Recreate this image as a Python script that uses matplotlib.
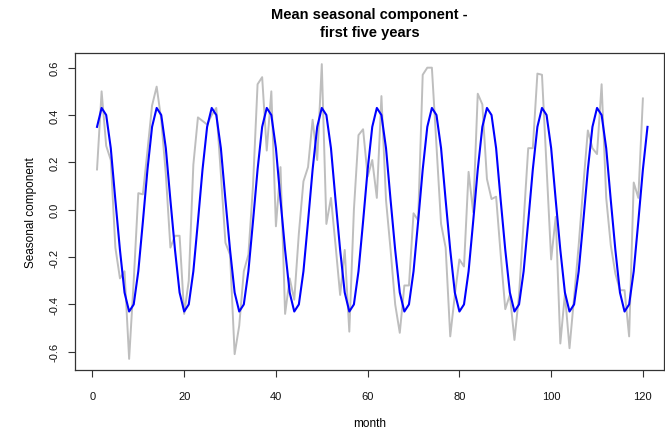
import matplotlib
matplotlib.use("Agg")
import matplotlib.pyplot as plt
import numpy as np

plt.rcParams['font.family'] = ['Liberation Sans', 'DejaVu Sans']

# monthly observations (grey), months 1..120
observed = [0.17, 0.50, 0.27, 0.21, -0.16, -0.29, -0.26, -0.63, -0.30, 0.07,
            0.065, 0.25, 0.44, 0.52, 0.38, 0.15, -0.16, -0.11, -0.11, -0.44,
            -0.30, 0.19, 0.39, 0.375, 0.36, 0.40, 0.43, 0.15, -0.14, -0.19,
            -0.61, -0.49, -0.26, -0.19, 0.10, 0.53, 0.56, 0.25, 0.50, -0.07,
            0.18, -0.44, -0.29, -0.38, -0.10, 0.12, 0.18, 0.38, 0.21, 0.615,
            -0.06, 0.05, -0.15, -0.36, -0.17, -0.515, 0.00, 0.315, 0.34, 0.14,
            0.21, 0.05, 0.48, 0.04, -0.17, -0.40, -0.52, -0.32, -0.32, -0.015,
            -0.045, 0.57, 0.60, 0.60, 0.27, -0.06, -0.16, -0.535, -0.36, -0.21,
            -0.24, 0.16, -0.01, 0.49, 0.445, 0.13, 0.045, 0.055, -0.19, -0.42,
            -0.36, -0.55, -0.36, -0.05, 0.26, 0.26, 0.575, 0.57, 0.18, -0.21,
            -0.03, -0.565, -0.355, -0.585, -0.37, -0.15, 0.10, 0.335, 0.26, 0.235,
            0.53, 0.05, -0.15, -0.27, -0.34, -0.34, -0.535, 0.115, 0.05, 0.47]

# mean seasonal pattern (one year), repeated over months 1..121
seasonal_year = [0.35, 0.43, 0.40, 0.26, 0.04, -0.17,
                 -0.35, -0.43, -0.40, -0.26, -0.05, 0.17]
n_seasonal = 121

months_obs = np.arange(1, len(observed) + 1)
months_seas = np.arange(1, n_seasonal + 1)
seasonal = np.resize(seasonal_year, n_seasonal)

fig = plt.figure(figsize=(6.65, 4.31), dpi=100)
ax = fig.add_axes([75 / 665, 1 - 371 / 431, (664 - 75) / 665, (371 - 54) / 431])

ax.plot(months_obs, observed, color='#BEBEBE', lw=1.4)
ax.plot(months_seas, seasonal, color='#0000FF', lw=1.5)

ax.set_xlim(-3.8, 124.6)
ax.set_ylim(-0.677, 0.662)
ax.set_xticks([0, 20, 40, 60, 80, 100, 120])
yt = [-0.6, -0.4, -0.2, 0.0, 0.2, 0.4, 0.6]
ax.set_yticks(yt)
ax.set_yticklabels([f"{v:.1f}" for v in yt], rotation=90, va='center')

for s in ax.spines.values():
    s.set_color('#333333')
    s.set_linewidth(0.9)
ax.tick_params(direction='out', length=5, width=0.8, color='#333333',
               labelsize=8, labelcolor='#111111')
ax.tick_params(axis='x', pad=10)
ax.tick_params(axis='y', pad=6)

ax.set_xlabel('month', fontsize=8.5, labelpad=12)
ax.set_ylabel('Seasonal component', fontsize=8.5, labelpad=9)
ax.set_title('Mean seasonal component -\nfirst five years',
             fontsize=10.5, fontweight='bold', pad=12, linespacing=1.4)

fig.savefig('out.png', dpi=100)
